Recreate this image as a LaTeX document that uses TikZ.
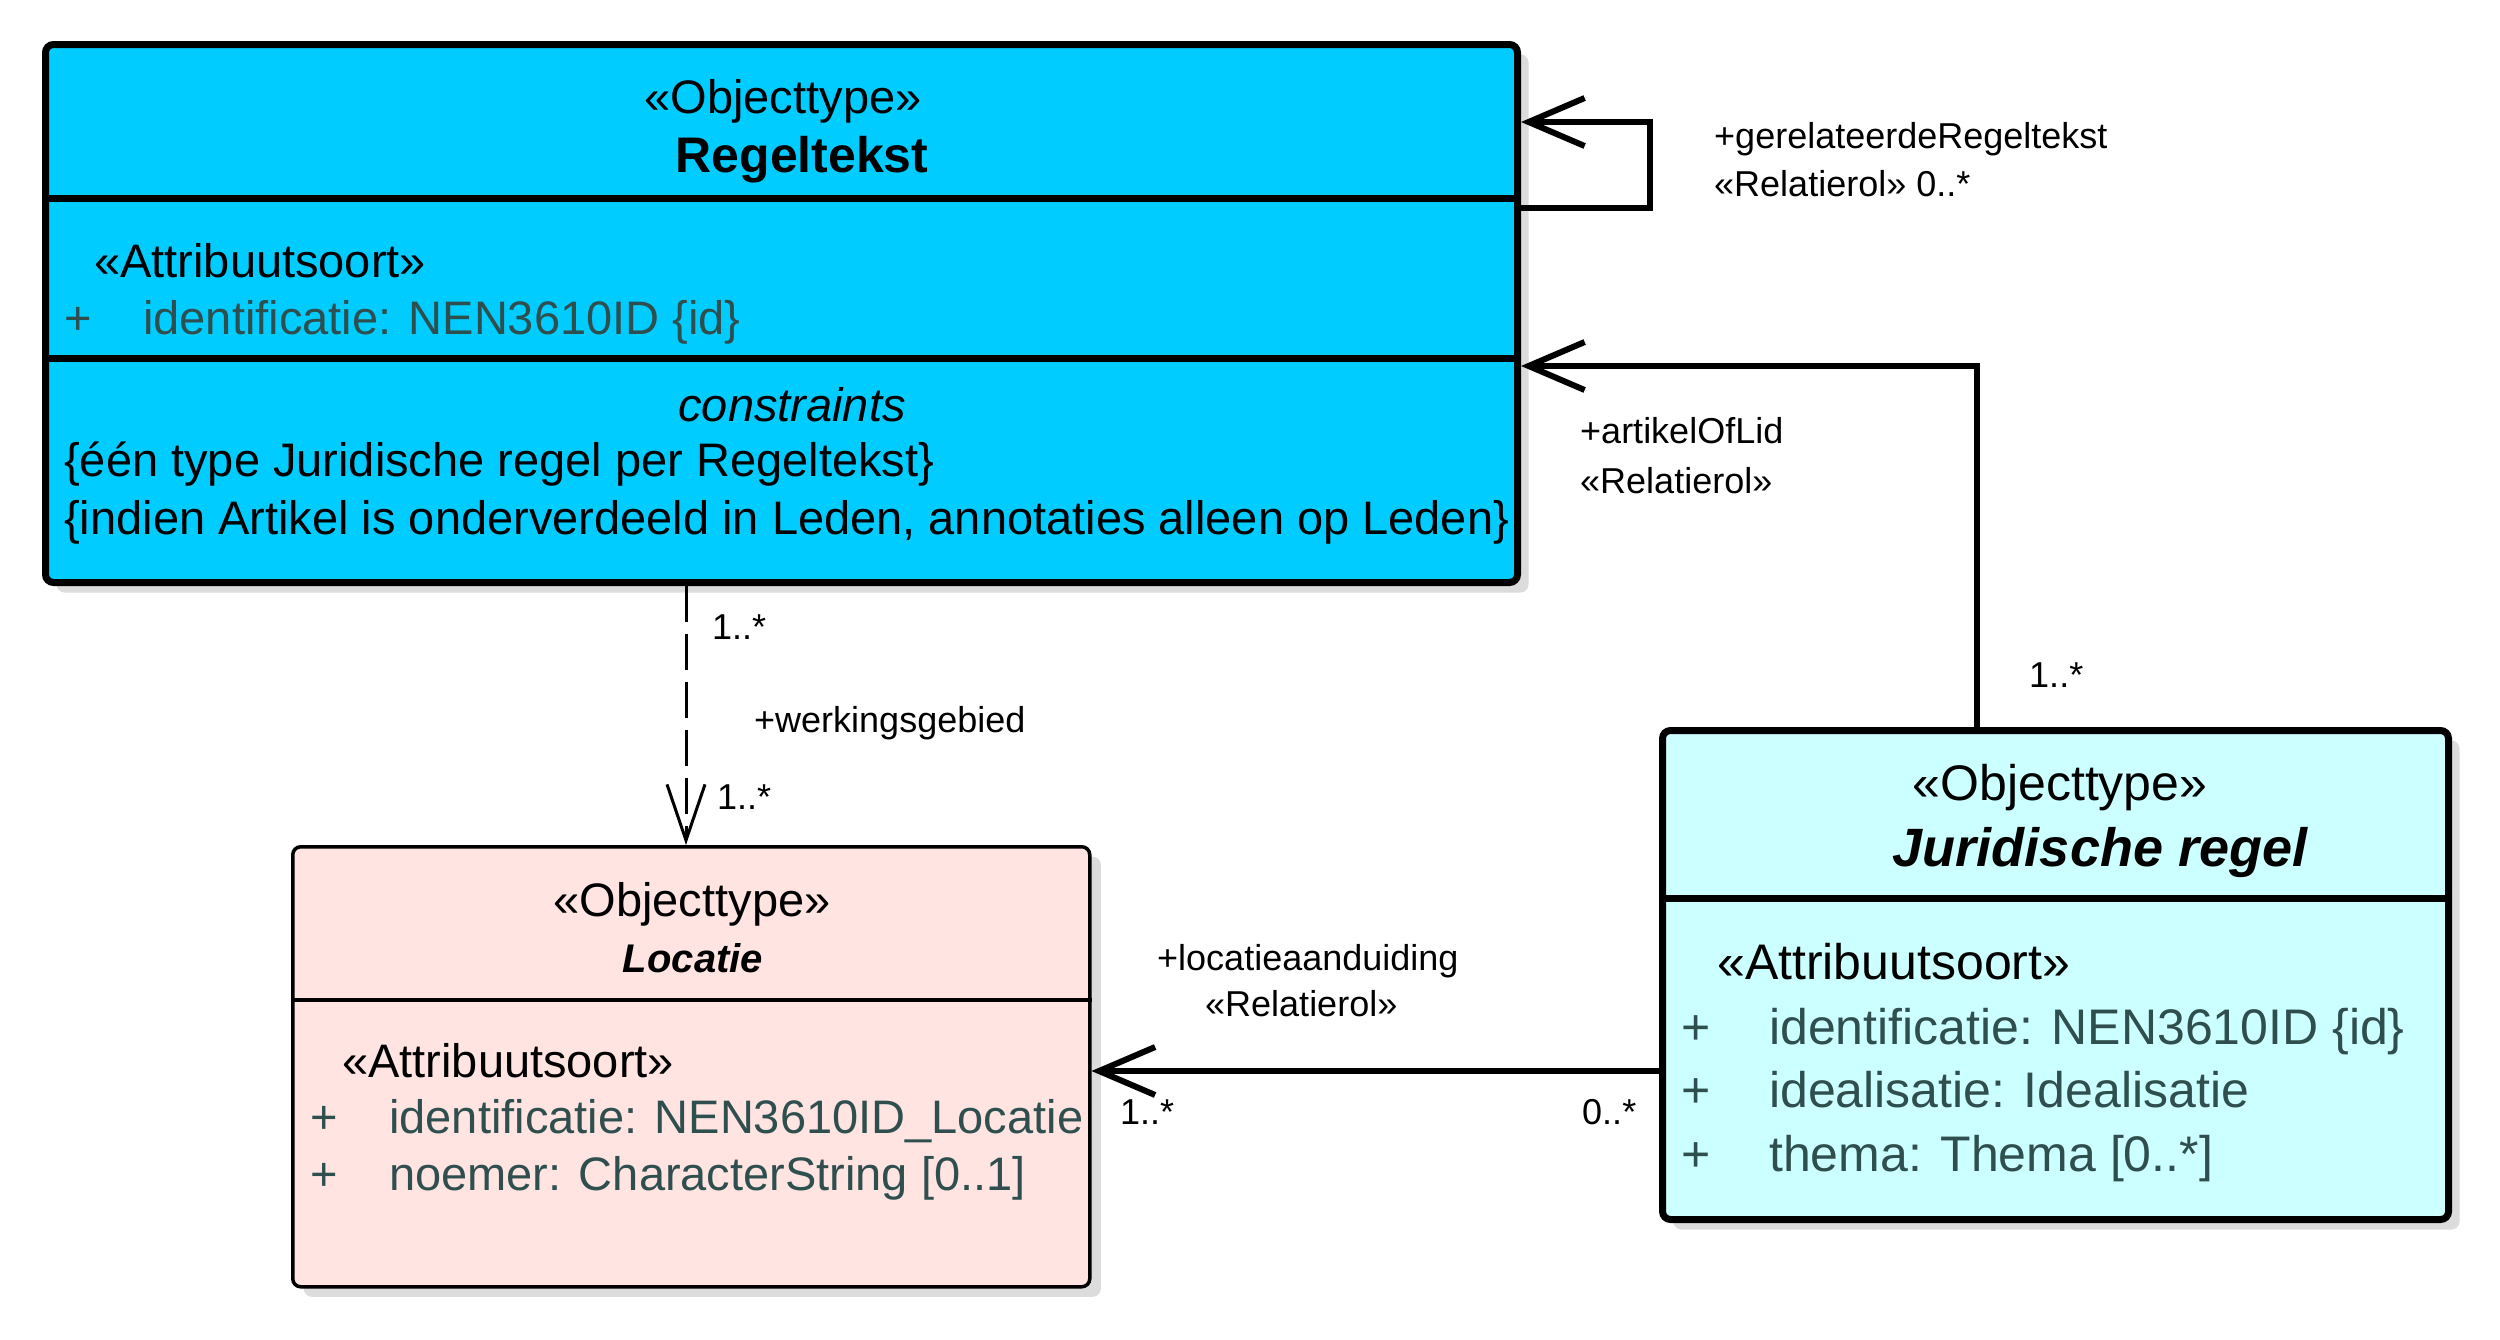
\documentclass[tikz,border=0pt]{standalone}
\usepackage{fontspec}
\setmainfont{Liberation Sans}
\usetikzlibrary{arrows.meta,calc,shadows}

\definecolor{regblue}{HTML}{00CCFF}
\definecolor{jurcyan}{HTML}{CCFFFF}
\definecolor{locpink}{HTML}{FFE4E1}
\definecolor{attrgrey}{HTML}{2F4F4F}
\definecolor{shadowgrey}{HTML}{DCDCDC}

\tikzset{
  classbox/.style={draw=black, rounded corners=8pt, anchor=north west, inner sep=0pt,
    drop shadow={shadow xshift=11pt, shadow yshift=-10pt, fill=shadowgrey, opacity=1}},
  body/.style={font=\fontsize{47}{56}\selectfont, inner sep=0pt, anchor=base west},
  jbody/.style={body, font=\fontsize{50}{58}\selectfont},
  stereo/.style={body, anchor=base},
  attr/.style={body, text=attrgrey},
  jattr/.style={jbody, text=attrgrey},
  titlebf/.style={inner sep=0pt, anchor=base, font=\fontsize{50}{58}\selectfont\bfseries},
  lbl/.style={font=\fontsize{36}{42}\selectfont, inner sep=0pt, anchor=base west},
  assoc/.style={line width=6pt, -{Straight Barb[length=56pt,width=48pt]}},
  dep/.style={line width=3pt, dash pattern=on 36pt off 12pt, -{Straight Barb[length=56pt,width=38pt]}},
  divider/.style={line width=7pt},
}

\begin{document}
\begin{tikzpicture}[x=1pt,y=-1pt]
\useasboundingbox (0,0) rectangle (2500,1339);

% ---------- Regeltekst ----------
\node[classbox, fill=regblue, line width=7pt, minimum width=1472pt, minimum height=538pt] (reg) at (42,41) {};
\draw[divider] ($(reg.north west)+(0,157)$) -- ($(reg.north east)+(0,157)$);
\draw[divider] ($(reg.north west)+(0,317)$) -- ($(reg.north east)+(0,317)$);
\node[stereo] (regst) at (783,113) {«Objecttype»};
\node[titlebf] (regname) at (802,172) {Regeltekst};
\node[body] (regattrst) at (94,277) {«Attribuutsoort»};
\node[attr] (regplus) at (64,334) {+};
\node[attr] (regid) at (143,334) {identificatie: NEN3610ID \{id\}};
\node[stereo, font=\fontsize{47}{56}\selectfont\itshape] (regcons) at (792,421) {constraints};
\node[body] (regc1) at (64,476) {\{één type Juridische regel per Regeltekst\}};
\node[body] (regc2) at (64,534) {\{indien Artikel is onderverdeeld in Leden, annotaties alleen op Leden\}};

% ---------- Juridische regel ----------
\node[classbox, fill=jurcyan, line width=7pt, minimum width=786pt, minimum height=489pt] (jur) at (1659,727) {};
\draw[divider] ($(jur.north west)+(0,171)$) -- ($(jur.north east)+(0,171)$);
\node[jbody, anchor=base] (jurst) at (2060,800) {«Objecttype»};
\node[titlebf, font=\fontsize{54}{62}\selectfont\bfseries\itshape] (jurname) at (2100,866) {Juridische regel};
\node[jbody] (jurattrst) at (1717,979) {«Attribuutsoort»};
\node[jattr] (jurp1) at (1681,1044) {+};
\node[jattr] (jura1) at (1769,1044) {identificatie: NEN3610ID \{id\}};
\node[jattr] (jurp2) at (1681,1107) {+};
\node[jattr] (jura2) at (1769,1107) {idealisatie: Idealisatie};
\node[jattr] (jurp3) at (1681,1171) {+};
\node[jattr] (jura3) at (1769,1171) {thema: Thema [0..*]};

% ---------- Locatie ----------
\node[classbox, fill=locpink, line width=3.5pt, minimum width=797pt, minimum height=440pt] (loc) at (291,845) {};
\draw[line width=3.5pt] ($(loc.north west)+(0,155)$) -- ($(loc.north east)+(0,155)$);
\node[stereo] (locst) at (692,916) {«Objecttype»};
\node[titlebf, font=\fontsize{40}{48}\selectfont\bfseries\itshape] (locname) at (693,972) {Locatie};
\node[body] (locattrst) at (342,1077) {«Attribuutsoort»};
\node[attr] (locp1) at (310,1133) {+};
\node[attr] (loca1) at (389,1133) {identificatie: NEN3610ID\_Locatie};
\node[attr] (locp2) at (310,1190) {+};
\node[attr] (loca2) at (389,1190) {noemer: CharacterString [0..1]};

% ---------- connectors ----------
% self association
\draw[assoc] ($(reg.north east)+(0,167)$) -| ($(reg.north east)+(129,81)$) -- ($(reg.north east)+(0,81)$);
\node[lbl] (l1a) at (1714,148) {+gerelateerdeRegeltekst};
\node[lbl] (l1b) at (1714,196) {«Relatierol» 0..*};

% artikelOfLid
\draw[assoc] ($(jur.north west)+(318,0)$) |- ($(reg.north east)+(0,325)$);
\node[lbl] (l2a) at (1580,443) {+artikelOfLid};
\node[lbl] (l2b) at (1580,493) {«Relatierol»};
\node[lbl] (l2c) at (2029,687) {1..*};

% werkingsgebied (dependency)
\draw[dep] ($(reg.south west)+(644,0)$) -- ($(loc.north west)+(395,0)$);
\node[lbl] (l3a) at (712,639) {1..*};
\node[lbl] (l3b) at (754,732) {+werkingsgebied};
\node[lbl] (l3c) at (717,809) {1..*};

% locatieaanduiding
\draw[assoc] ($(jur.north west)+(0,344)$) -- ($(loc.north east)+(0,226)$);
\node[lbl] (l4a) at (1157,970) {+locatieaanduiding};
\node[lbl] (l4b) at (1205,1016) {«Relatierol»};
\node[lbl] (l4c) at (1120,1124) {1..*};
\node[lbl] (l4d) at (1582,1124) {0..*};
\end{tikzpicture}
\end{document}
